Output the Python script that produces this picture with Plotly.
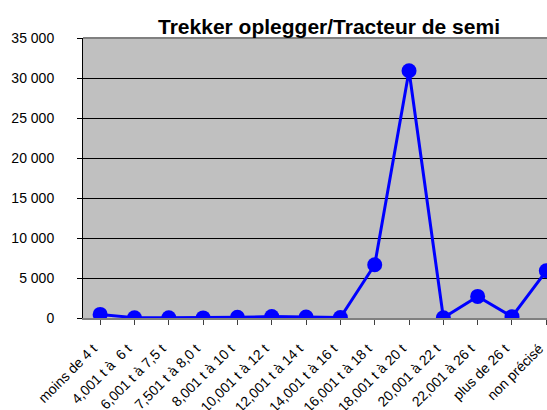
import plotly.graph_objects as go

categories = ["moins de 4 t", "4,001 t à \u00a06 t", "6,001 t à 7,5 t", "7,501 t à 8,0 t",
              "8,001 t à 10 t", "10,001 t à 12 t", "12,001 t à 14 t", "14,001 t à 16 t",
              "16,001 t à 18 t", "18,001 t à 20 t", "20,001 à 22 t", "22,001 à 26 t",
              "plus de 26 t", "non précisé"]
values = [450, 40, 20, 10, 80, 180, 110, 60, 6650, 30900, 30, 2700, 170, 5900]
y_ticks = [0, 5000, 10000, 15000, 20000, 25000, 30000, 35000]
y_tick_text = ["0", "5 000", "10 000", "15 000", "20 000", "25 000", "30 000", "35 000"]

W, H = 547, 410
L, T, B = 83, 38, 92

fig = go.Figure()
fig.add_trace(go.Scatter(
    x=list(range(len(categories))), y=values, mode="lines+markers",
    line=dict(color="#0000FF", width=3),
    marker=dict(color="#0000FF", size=15),
    showlegend=False,
))

fig.update_layout(
    width=W, height=H,
    margin=dict(l=L, r=0, t=T, b=B, autoexpand=False),
    paper_bgcolor="white", plot_bgcolor="#C0C0C0",
    font=dict(family="Liberation Sans, Arial, sans-serif", color="black", size=14),
    title=dict(text="<b>Trekker oplegger/Tracteur de semi</b>",
               font=dict(size=21, family="Liberation Sans, Arial, sans-serif"),
               x=(329 - L) / (W - L), xref="paper", xanchor="center",
               y=1 - 27 / H, yanchor="middle", automargin=False),
)
fig.update_xaxes(
    range=[-0.5, 13.02], automargin=False,
    tickmode="array", tickvals=list(range(len(categories))), ticktext=categories,
    tickangle=-45, tickfont=dict(size=14),
    ticks="outside", ticklen=5, tickcolor="#404040",
    ticklabelstandoff=10, ticklabelshift=-7,
    showline=True, linecolor="#808080", linewidth=2,
    showgrid=False, zeroline=False,
)
fig.update_yaxes(
    range=[0, 35000], automargin=False,
    tickmode="array", tickvals=y_ticks, ticktext=y_tick_text,
    tickfont=dict(size=14),
    ticks="outside", ticklen=5, tickcolor="black",
    ticklabelstandoff=20,
    showline=True, linecolor="black", linewidth=1,
    showgrid=True, gridcolor="black", gridwidth=1,
    zeroline=False,
)
fig.add_shape(type="line", xref="paper", yref="paper", x0=0, x1=1, y0=1, y1=1,
              line=dict(color="#808080", width=2), layer="above")

page_fix = ("document.body.style.margin='0';"
            "document.body.style.overflow='hidden';"
            "document.documentElement.style.overflow='hidden';")

fig.write_html("out.html", post_script=page_fix, config={"displayModeBar": False})
